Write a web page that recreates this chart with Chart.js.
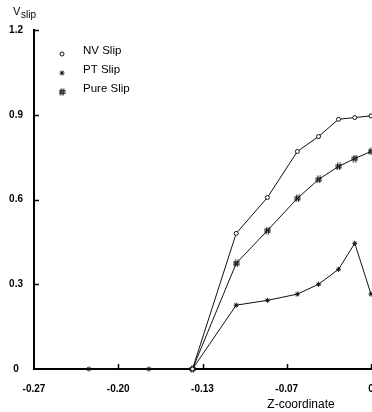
<!DOCTYPE html>
<html>
<head>
<meta charset="utf-8">
<script src="https://cdn.jsdelivr.net/npm/chart.js@4/dist/chart.umd.min.js"></script>
<style>
  html, body { margin: 0; padding: 0; background: #fff; overflow: hidden; }
  #wrap { width: 376px; height: 412px; position: relative; }
</style>
</head>
<body>
<div id="wrap"><canvas id="slip"></canvas></div>
<script>
// sampled z positions and slip velocity for each model
const zCoord = [-0.226, -0.178, -0.143, -0.108, -0.083, -0.059, -0.042, -0.026, -0.013, 0];
const nvSlip = [null, null, 0, 0.48, 0.607, 0.77, 0.823, 0.884, 0.89, 0.896];
const ptSlip = [0, 0, 0, 0.226, 0.243, 0.265, 0.30, 0.353, 0.445, 0.265];
const pureSlip = [null, null, 0, 0.374, 0.49, 0.604, 0.671, 0.717, 0.745, 0.77];

const xTickVals = [-0.27, -0.2025, -0.135, -0.0675, 0];
const xTickLabels = ['-0.27', '-0.20', '-0.13', '-0.07', '0'];
const yTickVals = [0, 0.3, 0.6, 0.9, 1.2];
const yTickLabels = ['0', '0.3', '0.6', '0.9', '1.2'];

const FONT = '"Liberation Sans", Arial, sans-serif';
const INK = '#111';

function toPoints(vals) {
  return zCoord.map((z, i) => ({ x: z, y: vals[i] }));
}

// little "#" marker for the pure slip series
function hashMark() {
  const c = document.createElement('canvas');
  c.width = 7; c.height = 8;
  const g = c.getContext('2d');
  g.strokeStyle = INK; g.lineWidth = 1.2;
  g.beginPath();
  g.moveTo(2.8, 0.5); g.lineTo(2.1, 7.5);
  g.moveTo(5.2, 0.5); g.lineTo(4.5, 7.5);
  g.moveTo(0.3, 2.8); g.lineTo(6.7, 2.8);
  g.moveTo(0.3, 5.2); g.lineTo(6.7, 5.2);
  g.stroke();
  return c;
}
const hash = hashMark();

const series = [
  { label: 'NV Slip', vals: nvSlip, style: 'circle', radius: 2, fill: '#fff' },
  { label: 'PT Slip', vals: ptSlip, style: 'star', radius: 2.5, fill: INK },
  { label: 'Pure Slip', vals: pureSlip, style: hash, radius: 4, fill: INK }
];

const decorations = {
  id: 'decorations',
  afterDraw(chart) {
    const { ctx, chartArea: area, scales: { x, y } } = chart;
    ctx.save();
    ctx.strokeStyle = '#000';
    ctx.lineWidth = 1.5;
    // tick marks point into the plot
    yTickVals.slice(1).forEach(v => {
      const py = Math.round(y.getPixelForValue(v)) + 0.5;
      ctx.beginPath(); ctx.moveTo(area.left, py); ctx.lineTo(area.left + 5, py); ctx.stroke();
    });
    xTickVals.slice(1).forEach(v => {
      const px = Math.round(x.getPixelForValue(v)) + 0.5;
      ctx.beginPath(); ctx.moveTo(px, area.bottom); ctx.lineTo(px, area.bottom - 5); ctx.stroke();
    });

    ctx.fillStyle = '#000';
    ctx.textAlign = 'left';
    ctx.textBaseline = 'alphabetic';
    ctx.font = '11px ' + FONT;
    ctx.fillText('V', 13, 15);
    ctx.font = '10px ' + FONT;
    ctx.fillText('slip', 21, 18);

    ctx.font = '12px ' + FONT;
    ctx.textAlign = 'center';
    ctx.fillText('Z-coordinate', 301, 408);

    // legend
    ctx.textAlign = 'left';
    ctx.textBaseline = 'middle';
    ctx.font = '11.5px ' + FONT;
    const rows = [51, 70, 89];
    chart.data.datasets.forEach((ds, i) => {
      const ly = rows[i];
      ctx.lineWidth = ds.pointBorderWidth;
      ctx.strokeStyle = INK;
      ctx.fillStyle = ds.pointBackgroundColor;
      Chart.helpers.drawPoint(ctx, {
        pointStyle: ds.pointStyle,
        radius: ds.pointRadius,
        rotation: 0,
        borderWidth: ds.pointBorderWidth
      }, 62, ly + 3);
      ctx.fillStyle = '#000';
      ctx.fillText(ds.label, 83, ly);
    });
    ctx.restore();
  }
};

new Chart(document.getElementById('slip'), {
  type: 'line',
  data: {
    datasets: series.map(s => ({
      label: s.label,
      data: toPoints(s.vals),
      borderColor: INK,
      borderWidth: 1,
      tension: 0,
      spanGaps: false,
      pointStyle: s.style,
      pointRadius: s.radius,
      pointBorderWidth: 1,
      pointBorderColor: INK,
      pointBackgroundColor: s.fill,
      clip: false
    }))
  },
  options: {
    responsive: true,
    maintainAspectRatio: false,
    animation: false,
    layout: { padding: { top: 30, right: 1, bottom: 0, left: 0 } },
    plugins: { legend: { display: false }, tooltip: { enabled: false } },
    scales: {
      x: {
        type: 'linear',
        min: -0.27,
        max: 0,
        grid: { display: false, drawTicks: false },
        border: { display: true, color: '#000', width: 2 },
        afterBuildTicks: scale => { scale.ticks = xTickVals.map(v => ({ value: v })); },
        afterFit: scale => { scale.height = 43; scale.paddingLeft = 0; scale.paddingRight = 0; },
        ticks: {
          autoSkip: false,
          maxRotation: 0,
          padding: 14,
          color: '#000',
          font: { family: FONT, size: 10, weight: 'bold' },
          callback: (v, i) => xTickLabels[i]
        }
      },
      y: {
        type: 'linear',
        min: 0,
        max: 1.2,
        grid: { display: false, drawTicks: false },
        border: { display: true, color: '#000', width: 2 },
        afterBuildTicks: scale => { scale.ticks = yTickVals.map(v => ({ value: v })); },
        afterFit: scale => { scale.width = 34; scale.paddingTop = 0; scale.paddingBottom = 0; },
        ticks: {
          crossAlign: 'center',
          padding: 11,
          color: '#000',
          font: { family: FONT, size: 10, weight: 'bold' },
          callback: (v, i) => yTickLabels[i]
        }
      }
    }
  },
  plugins: [decorations]
});
</script>
</body>
</html>
